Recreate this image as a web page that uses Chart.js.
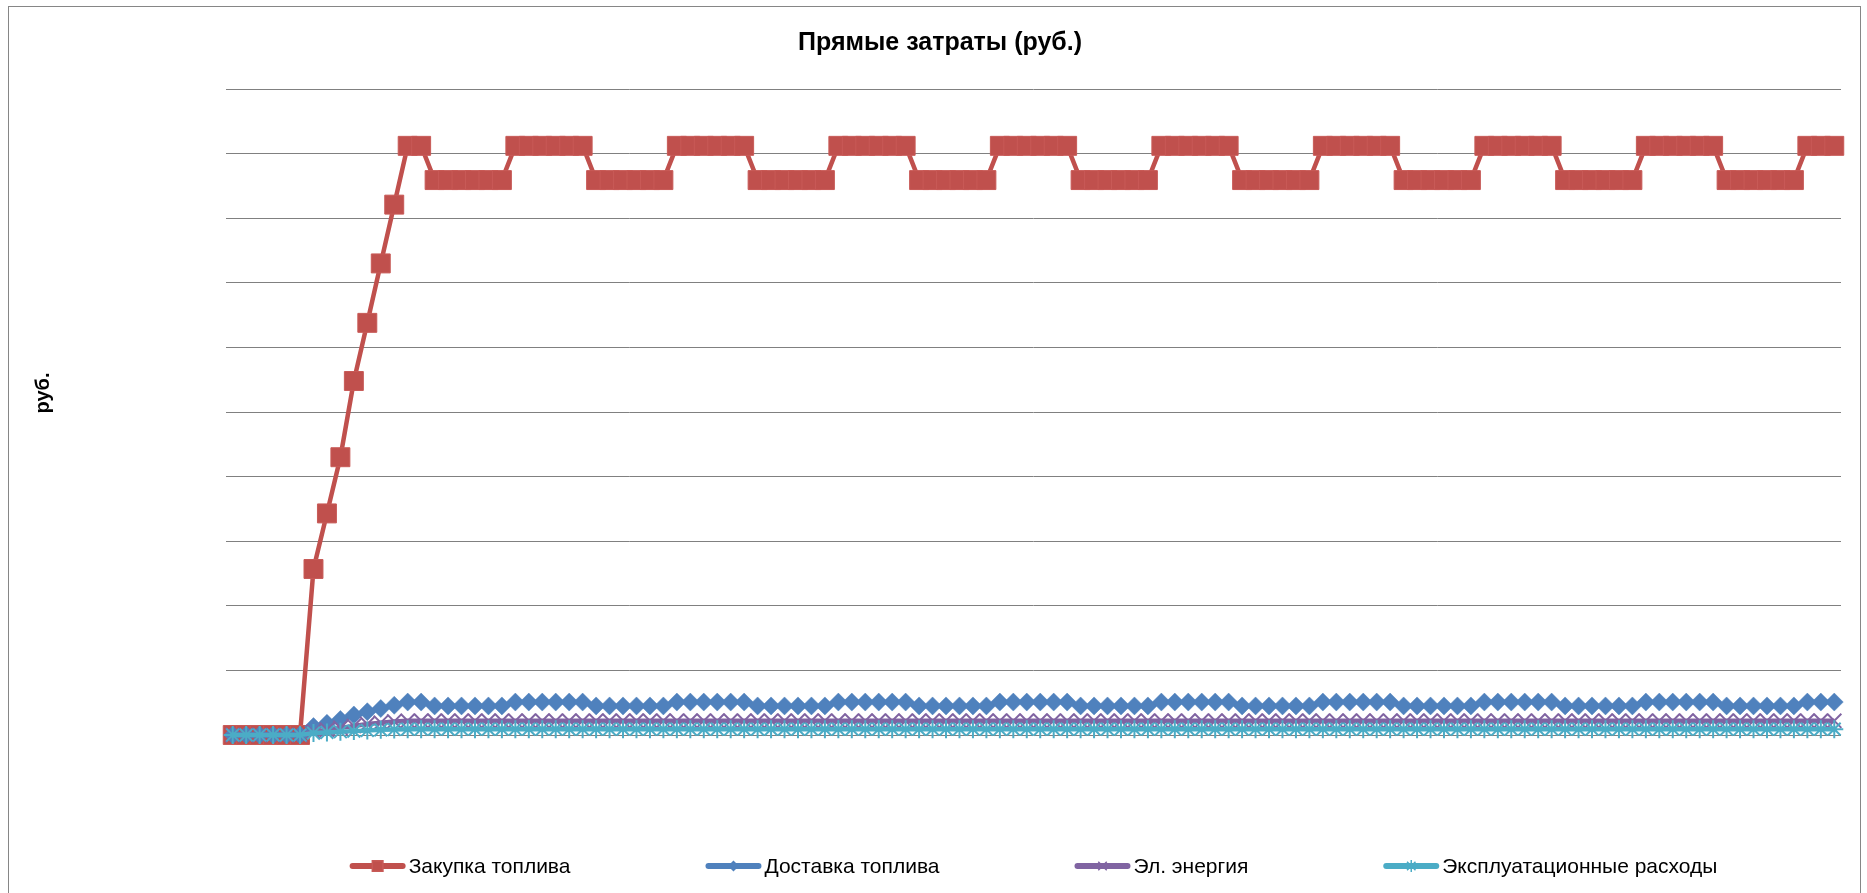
<!DOCTYPE html>
<html lang="ru">
<head>
<meta charset="utf-8">
<title>Прямые затраты (руб.)</title>
<script src="https://cdn.jsdelivr.net/npm/chart.js@4.4.1/dist/chart.umd.min.js"></script>
<style>
  html, body { margin: 0; padding: 0; background: #fff; overflow: hidden; }
  #frame { position: absolute; left: 8px; top: 6px; width: 1851px; height: 900px; border: 1px solid #868686; }
  #costChart { position: absolute; left: 0; top: 0; }
</style>
</head>
<body>
<div id="frame"></div>
<canvas id="costChart" width="1867" height="893"></canvas>
<script>
// Chart data (rubles per month, 10 years)
const chartTitle = 'Прямые затраты (руб.)';
const axisTitle = 'руб.';
const months = Array.from({ length: 120 }, (_, i) => i + 1);

const seriesNames = ['Закупка топлива', 'Доставка топлива', 'Эл. энергия', 'Эксплуатационные расходы'];

const fuelPurchase = [
  0, 0, 0, 0, 0, 0, 257000, 343000, 430000, 548000, 638000, 730000,
  821000, 912000, 912000, 859000, 859000, 859000, 859000, 859000, 859000, 912000, 912000, 912000,
  912000, 912000, 912000, 859000, 859000, 859000, 859000, 859000, 859000, 912000, 912000, 912000,
  912000, 912000, 912000, 859000, 859000, 859000, 859000, 859000, 859000, 912000, 912000, 912000,
  912000, 912000, 912000, 859000, 859000, 859000, 859000, 859000, 859000, 912000, 912000, 912000,
  912000, 912000, 912000, 859000, 859000, 859000, 859000, 859000, 859000, 912000, 912000, 912000,
  912000, 912000, 912000, 859000, 859000, 859000, 859000, 859000, 859000, 912000, 912000, 912000,
  912000, 912000, 912000, 859000, 859000, 859000, 859000, 859000, 859000, 912000, 912000, 912000,
  912000, 912000, 912000, 859000, 859000, 859000, 859000, 859000, 859000, 912000, 912000, 912000,
  912000, 912000, 912000, 859000, 859000, 859000, 859000, 859000, 859000, 912000, 912000, 912000
];

const fuelDelivery = [
  0, 0, 0, 0, 0, 0, 13000, 18000, 24000, 31000, 36000, 41000,
  46000, 51000, 51000, 45000, 45000, 45000, 45000, 45000, 45000, 51000, 51000, 51000,
  51000, 51000, 51000, 45000, 45000, 45000, 45000, 45000, 45000, 51000, 51000, 51000,
  51000, 51000, 51000, 45000, 45000, 45000, 45000, 45000, 45000, 51000, 51000, 51000,
  51000, 51000, 51000, 45000, 45000, 45000, 45000, 45000, 45000, 51000, 51000, 51000,
  51000, 51000, 51000, 45000, 45000, 45000, 45000, 45000, 45000, 51000, 51000, 51000,
  51000, 51000, 51000, 45000, 45000, 45000, 45000, 45000, 45000, 51000, 51000, 51000,
  51000, 51000, 51000, 45000, 45000, 45000, 45000, 45000, 45000, 51000, 51000, 51000,
  51000, 51000, 51000, 45000, 45000, 45000, 45000, 45000, 45000, 51000, 51000, 51000,
  51000, 51000, 51000, 45000, 45000, 45000, 45000, 45000, 45000, 51000, 51000, 51000
];

const electricity = [
  0, 0, 0, 0, 0, 0, 5000, 8000, 11000, 14000, 17000, 19000,
  21000, 22000, 22000, 22000, 22000, 22000, 22000, 22000, 22000, 22000, 22000, 22000,
  22000, 22000, 22000, 22000, 22000, 22000, 22000, 22000, 22000, 22000, 22000, 22000,
  22000, 22000, 22000, 22000, 22000, 22000, 22000, 22000, 22000, 22000, 22000, 22000,
  22000, 22000, 22000, 22000, 22000, 22000, 22000, 22000, 22000, 22000, 22000, 22000,
  22000, 22000, 22000, 22000, 22000, 22000, 22000, 22000, 22000, 22000, 22000, 22000,
  22000, 22000, 22000, 22000, 22000, 22000, 22000, 22000, 22000, 22000, 22000, 22000,
  22000, 22000, 22000, 22000, 22000, 22000, 22000, 22000, 22000, 22000, 22000, 22000,
  22000, 22000, 22000, 22000, 22000, 22000, 22000, 22000, 22000, 22000, 22000, 22000,
  22000, 22000, 22000, 22000, 22000, 22000, 22000, 22000, 22000, 22000, 22000, 22000
];

const operating = [
  0, 0, 0, 0, 0, 0, 3000, 4000, 5000, 6000, 7000, 8000,
  8500, 9000, 9000, 9000, 9000, 9000, 9000, 9000, 9000, 9000, 9000, 9000,
  9000, 9000, 9000, 9000, 9000, 9000, 9000, 9000, 9000, 9000, 9000, 9000,
  9000, 9000, 9000, 9000, 9000, 9000, 9000, 9000, 9000, 9000, 9000, 9000,
  9000, 9000, 9000, 9000, 9000, 9000, 9000, 9000, 9000, 9000, 9000, 9000,
  9000, 9000, 9000, 9000, 9000, 9000, 9000, 9000, 9000, 9000, 9000, 9000,
  9000, 9000, 9000, 9000, 9000, 9000, 9000, 9000, 9000, 9000, 9000, 9000,
  9000, 9000, 9000, 9000, 9000, 9000, 9000, 9000, 9000, 9000, 9000, 9000,
  9000, 9000, 9000, 9000, 9000, 9000, 9000, 9000, 9000, 9000, 9000, 9000,
  9000, 9000, 9000, 9000, 9000, 9000, 9000, 9000, 9000, 9000, 9000, 9000
];

const yMax = 1000000;
const yStep = 100000;

const FONT = '"Liberation Sans", Arial, sans-serif';

// y axis title and Excel-like legend (line + marker + text)
const extras = {
  id: 'extras',
  afterDraw(chart) {
    const ctx = chart.ctx;
    const area = chart.chartArea;

    ctx.save();
    ctx.translate(43, 393);
    ctx.rotate(-Math.PI / 2);
    ctx.font = 'bold 20px ' + FONT;
    ctx.fillStyle = '#000';
    ctx.textAlign = 'center';
    ctx.textBaseline = 'middle';
    ctx.fillText(axisTitle, 0, 0);
    ctx.restore();

    ctx.save();
    ctx.font = '21px ' + FONT;
    const lineLen = 56, textGap = 3, itemGap = 135, y = 866;
    const items = chart.data.datasets.map(ds => ({ ds, w: ctx.measureText(ds.label).width }));
    const total = items.reduce((s, it) => s + lineLen + textGap + it.w, 0) + itemGap * (items.length - 1);
    let x = (area.left + area.right) / 2 - total / 2;
    items.forEach(it => {
      const ds = it.ds;
      ctx.strokeStyle = ds.borderColor;
      ctx.lineWidth = 6;
      ctx.lineCap = 'round';
      ctx.beginPath();
      ctx.moveTo(x + 3, y);
      ctx.lineTo(x + lineLen - 3, y);
      ctx.stroke();
      ctx.fillStyle = ds.pointBackgroundColor;
      ctx.strokeStyle = ds.pointBorderColor;
      ctx.lineWidth = 1.5;
      ctx.lineCap = 'butt';
      Chart.helpers.drawPoint(ctx, {
        pointStyle: ds.pointStyle, rotation: 0, radius: ds.legendRadius, borderWidth: 1.5
      }, x + lineLen / 2, y);
      ctx.fillStyle = '#000';
      ctx.textAlign = 'left';
      ctx.textBaseline = 'middle';
      ctx.fillText(ds.label, x + lineLen + textGap, y + 1);
      x += lineLen + textGap + it.w + itemGap;
    });
    ctx.restore();
  }
};

new Chart(document.getElementById('costChart'), {
  type: 'line',
  data: {
    labels: months,
    datasets: [
      {
        label: seriesNames[0], data: fuelPurchase, order: 4, clip: false,
        borderColor: '#C0504D', borderWidth: 4.5,
        pointStyle: 'rect', pointRadius: 13.4, pointBorderWidth: 1,
        pointBackgroundColor: '#C0504D', pointBorderColor: '#C85A57', legendRadius: 7.5
      },
      {
        label: seriesNames[1], data: fuelDelivery, order: 3, clip: false,
        borderColor: '#4F81BD', borderWidth: 4.5,
        pointStyle: 'rectRot', pointRadius: 9, pointBorderWidth: 0.5,
        pointBackgroundColor: '#4F81BD', pointBorderColor: '#4F81BD', legendRadius: 4.5
      },
      {
        label: seriesNames[2], data: electricity, order: 2, clip: false,
        borderColor: '#8064A2', borderWidth: 4.5,
        pointStyle: 'crossRot', pointRadius: 10, pointBorderWidth: 2,
        pointBackgroundColor: '#8064A2', pointBorderColor: '#8064A2', legendRadius: 6
      },
      {
        label: seriesNames[3], data: operating, order: 1, clip: false,
        borderColor: '#4BACC6', borderWidth: 4.5,
        pointStyle: 'star', pointRadius: 9, pointBorderWidth: 2,
        pointBackgroundColor: '#4BACC6', pointBorderColor: '#4BACC6', legendRadius: 6
      }
    ]
  },
  options: {
    responsive: false,
    animation: false,
    devicePixelRatio: 1,
    layout: { padding: { left: 39, right: 26, top: 0, bottom: 158 } },
    elements: { line: { tension: 0, fill: false } },
    scales: {
      x: { type: 'category', display: false, offset: true },
      y: {
        min: 0, max: yMax,
        ticks: { display: false, stepSize: yStep },
        grid: { color: '#808080', lineWidth: 1, drawTicks: false },
        border: { display: false },
        afterFit: (scale) => { scale.width = 187; }
      }
    },
    plugins: {
      legend: { display: false },
      tooltip: { enabled: false },
      title: {
        display: true,
        text: chartTitle,
        color: '#000',
        font: { family: FONT, size: 25, weight: 'bold' },
        padding: { top: 28, bottom: 31 }
      }
    }
  },
  plugins: [extras]
});
</script>
</body>
</html>
